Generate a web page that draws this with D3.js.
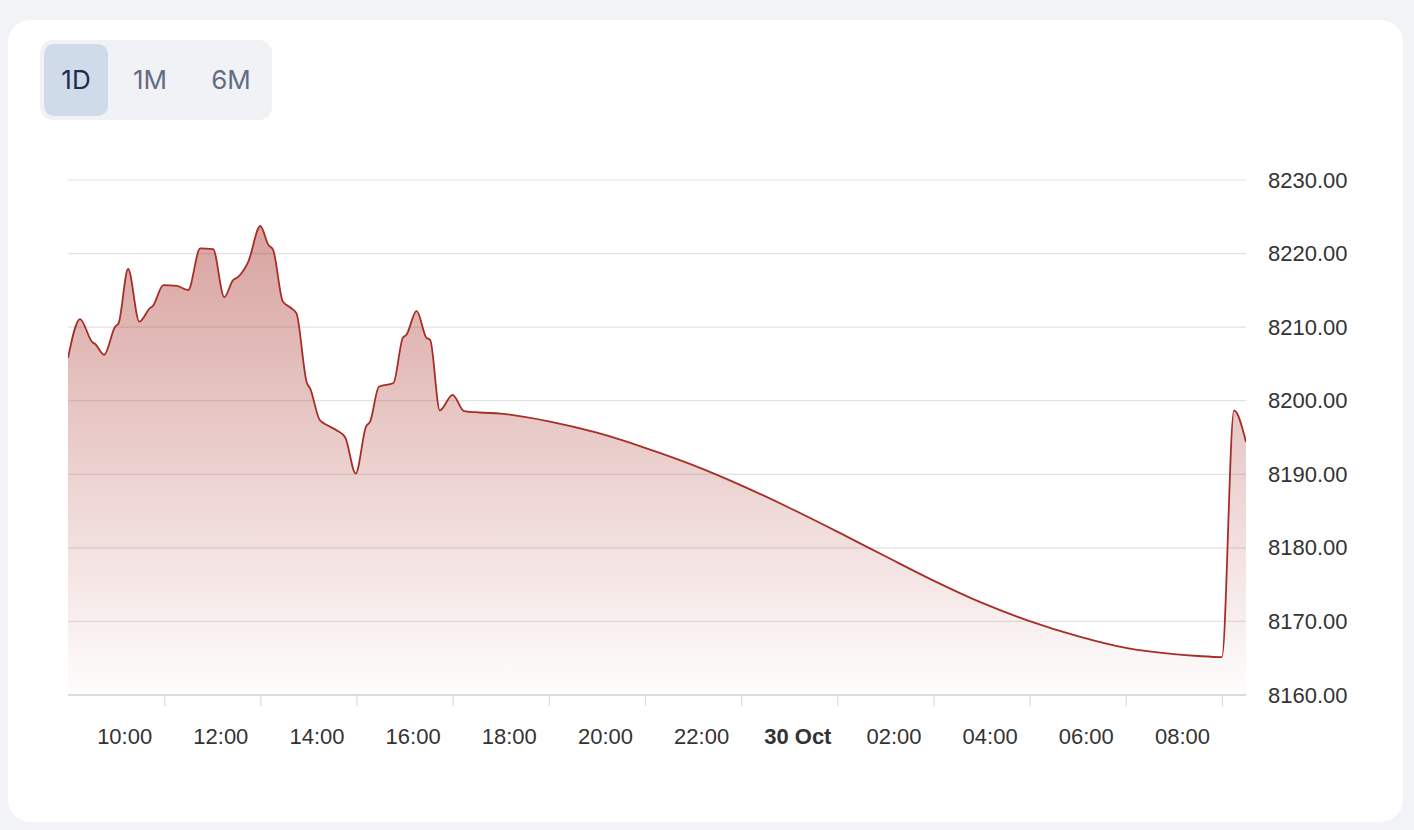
<!DOCTYPE html>
<html>
<head>
<meta charset="utf-8">
<script src="https://cdn.jsdelivr.net/npm/d3@7"></script>
<style>
  html, body { margin: 0; padding: 0; background: #f2f3f7; }
  svg { display: block; }
</style>
</head>
<body>
<svg id="chart" width="1414" height="830"></svg>
<script>
// ---- Data ----
const ranges = ["1D", "1M", "6M"];
const activeRange = "1D";

const times = [
  "2024-10-29 08:00","2024-10-29 08:15","2024-10-29 08:30","2024-10-29 08:34","2024-10-29 08:45",
  "2024-10-29 08:59","2024-10-29 09:03","2024-10-29 09:15","2024-10-29 09:29","2024-10-29 09:42",
  "2024-10-29 09:46","2024-10-29 09:59","2024-10-29 10:16","2024-10-29 10:30","2024-10-29 10:45",
  "2024-10-29 11:01","2024-10-29 11:15","2024-10-29 11:26","2024-10-29 11:32","2024-10-29 11:45",
  "2024-10-29 12:00","2024-10-29 12:10","2024-10-29 12:16","2024-10-29 12:28","2024-10-29 12:37",
  "2024-10-29 12:45","2024-10-29 12:58","2024-10-29 13:02","2024-10-29 13:14","2024-10-29 13:23",
  "2024-10-29 13:35","2024-10-29 13:46","2024-10-29 13:59","2024-10-29 14:12","2024-10-29 14:17",
  "2024-10-29 14:28","2024-10-29 14:46","2024-10-29 14:58","2024-10-29 15:02","2024-10-29 15:15",
  "2024-10-29 15:27","2024-10-29 15:32","2024-10-29 15:44","2024-10-29 16:00","2024-10-29 16:14",
  "2024-10-29 16:34","2024-10-29 17:00","2024-10-29 18:00","2024-10-29 19:00","2024-10-29 20:00",
  "2024-10-29 21:00","2024-10-29 22:00","2024-10-29 23:00","2024-10-30 00:00","2024-10-30 01:00",
  "2024-10-30 02:00","2024-10-30 03:00","2024-10-30 04:00","2024-10-30 05:00","2024-10-30 06:00",
  "2024-10-30 07:00","2024-10-30 07:30","2024-10-30 08:00","2024-10-30 08:15","2024-10-30 08:30"
];
const prices = [
  8205.8, 8211.1, 8208.0, 8207.7, 8206.25,
  8210.1, 8210.5, 8217.9, 8210.75, 8212.55,
  8212.9, 8215.7, 8215.6, 8215.05, 8220.7,
  8220.6, 8214.1, 8216.4, 8216.8, 8218.9,
  8223.75, 8221.2, 8220.5, 8213.5, 8212.7,
  8211.9, 8202.45, 8201.7, 8197.4, 8196.7,
  8196.0, 8195.0, 8190.1, 8196.5, 8197.15,
  8201.9, 8202.4, 8208.6, 8208.9, 8212.2,
  8208.6, 8208.25, 8198.7, 8200.8, 8198.6,
  8198.4, 8198.25, 8197.2, 8195.65, 8193.6,
  8191.25, 8188.5, 8185.45, 8182.2, 8178.85,
  8175.55, 8172.55, 8170.05, 8168.0, 8166.4,
  8165.55, 8165.3, 8165.15, 8198.7, 8194.4
];
const yTicks = [8160, 8170, 8180, 8190, 8200, 8210, 8220, 8230];
const xStart = "2024-10-29 08:00";
const xEnd = "2024-10-30 08:30";

// ---- Build ----
const parse = d3.timeParse("%Y-%m-%d %H:%M");
const data = times.map((t, i) => ({ t: parse(t), v: prices[i] }));

const svg = d3.select("#chart");
const W = 1414, H = 830;
const plot = { left: 68, right: 1246, top: 180, bottom: 695 };

// Card
svg.append("rect").attr("x", 0).attr("y", 0).attr("width", W).attr("height", H).attr("fill", "#f2f3f7");
svg.append("rect").attr("x", 8).attr("y", 20).attr("width", 1395).attr("height", 802)
  .attr("rx", 22).attr("fill", "#ffffff");

// Range buttons
const btnG = svg.append("g");
btnG.append("rect").attr("x", 40).attr("y", 40).attr("width", 232).attr("height", 80)
  .attr("rx", 13).attr("fill", "#f1f2f6");
const btnCenters = [76, 150, 231];
ranges.forEach((r, i) => {
  if (r === activeRange) {
    btnG.append("rect").attr("x", 44).attr("y", 44).attr("width", 64).attr("height", 72)
      .attr("rx", 10).attr("fill", "#cfdbe8");
  }
  btnG.append("text").attr("x", btnCenters[i]).attr("y", 80).attr("dy", "0.36em")
    .attr("text-anchor", "middle")
    .style("font-family", "Inter, 'Open Sans', sans-serif")
    .style("font-size", "26px")
    .attr("fill", r === activeRange ? "#1f2b4d" : "#646c83")
    .text(r);
});

// Scales
const x = d3.scaleTime().domain([parse(xStart), parse(xEnd)]).range([plot.left, plot.right]);
const y = d3.scaleLinear().domain([8160, 8230]).range([plot.bottom, plot.top]);

// Gridlines
const grid = svg.append("g");
grid.selectAll("line").data(yTicks).join("line")
  .attr("x1", plot.left).attr("x2", plot.right)
  .attr("y1", d => y(d)).attr("y2", d => y(d))
  .attr("stroke", d => d === 8160 ? "#dcdcdc" : "#e2e2e2")
  .attr("stroke-width", d => d === 8160 ? 2 : 1.2);

// Gradient
const defs = svg.append("defs");
const grad = defs.append("linearGradient").attr("id", "areaGrad")
  .attr("gradientUnits", "userSpaceOnUse")
  .attr("x1", 0).attr("x2", 0).attr("y1", y(8223.75)).attr("y2", plot.bottom);
grad.append("stop").attr("offset", "0%").attr("stop-color", "#a8322a").attr("stop-opacity", 0.45);
grad.append("stop").attr("offset", "100%").attr("stop-color", "#a8322a").attr("stop-opacity", 0.01);

defs.append("clipPath").attr("id", "plotClip").append("rect")
  .attr("x", plot.left).attr("y", plot.top - 20)
  .attr("width", plot.right - plot.left).attr("height", plot.bottom - plot.top + 20);

const curve = d3.curveMonotoneX;
const area = d3.area().x(d => x(d.t)).y0(plot.bottom).y1(d => y(d.v)).curve(curve);
const line = d3.line().x(d => x(d.t)).y(d => y(d.v)).curve(curve);

const g = svg.append("g").attr("clip-path", "url(#plotClip)");
g.append("path").datum(data).attr("d", area).attr("fill", "url(#areaGrad)");
g.append("path").datum(data).attr("d", line).attr("fill", "none")
  .attr("stroke", "#a62e26").attr("stroke-width", 1.8).attr("stroke-linejoin", "round");

// X axis
const xTickVals = d3.timeHour.every(2).range(parse(xStart), parse(xEnd)).filter(d => d > parse(xStart));
const fmtHour = d3.timeFormat("%H:%M");
const fmtDay = d3.timeFormat("%-d %b");
const xAxis = d3.axisBottom(x).tickValues(xTickVals).tickSize(11).tickSizeOuter(0)
  .tickFormat(d => (d.getHours() === 0 ? fmtDay(d) : fmtHour(d)));
const xg = svg.append("g").attr("transform", `translate(0,${plot.bottom})`).call(xAxis);
xg.select(".domain").remove();
xg.selectAll(".tick line").attr("stroke", "#dcdcdc").attr("stroke-width", 1.2);
xg.selectAll(".tick text")
  .attr("x", -40).attr("y", 42).attr("dy", "0.32em")
  .attr("fill", "#333333")
  .style("font-family", "'Liberation Sans', Arial, sans-serif")
  .style("font-size", "22px")
  .style("font-weight", d => d.getHours() === 0 ? "bold" : "normal");

// Y axis
const yAxis = d3.axisRight(y).tickValues(yTicks).tickSize(0).tickPadding(22)
  .tickFormat(d3.format(".2f"));
const yg = svg.append("g").attr("transform", `translate(${plot.right},0)`).call(yAxis);
yg.select(".domain").remove();
yg.selectAll(".tick text")
  .attr("fill", "#333333")
  .style("font-family", "'Liberation Sans', Arial, sans-serif")
  .style("font-size", "22px");
</script>
</body>
</html>
